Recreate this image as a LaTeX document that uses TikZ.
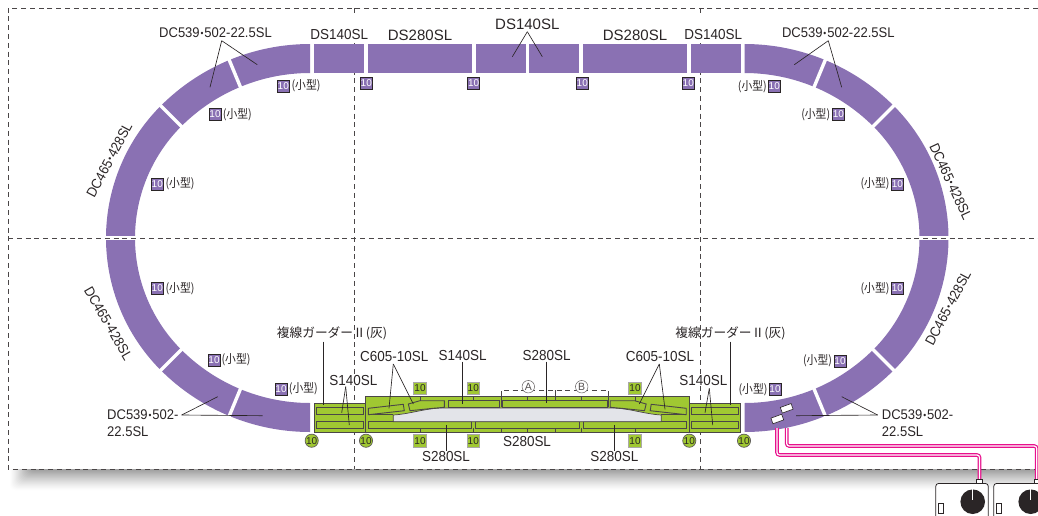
\documentclass[tikz,border=0pt]{standalone}
\usepackage{fontspec}
\setmainfont{Liberation Sans}
\newfontfamily\labn[FakeStretch=.93]{Liberation Sans}
\newfontfamily\labr[FakeStretch=.92]{Liberation Sans}
\newfontfamily\jp{Noto Sans CJK JP}
\newfontfamily\jpn[FakeStretch=.9]{Noto Sans CJK JP}
\definecolor{trackp}{HTML}{8A71B3}
\definecolor{trackg}{HTML}{A0C832}
\definecolor{ink}{HTML}{2A2526}
\definecolor{plat}{HTML}{E3E4E9}
\definecolor{pinkw}{HTML}{E8108C}
\newcommand\dt{\kern.9pt\raisebox{1.8pt}{\fontsize{9}{9}\selectfont •}\kern.9pt}
\tikzset{
  frame/.style={draw=ink!85,line width=.85pt,dash pattern=on 5pt off 3.8pt},
  lab/.style={text=ink,inner sep=0pt,font=\fontsize{14.5}{16}\labn},
  labw/.style={text=ink,inner sep=0pt,font=\fontsize{15}{16}\selectfont},
  labs/.style={text=ink,inner sep=0pt,font=\fontsize{14}{16}\labn},
  labrot/.style={text=ink,inner sep=0pt,font=\fontsize{14}{16}\labr},
  small/.style={text=ink,inner sep=0pt,font=\fontsize{12}{13}\jpn},
  jlab/.style={text=ink,inner sep=0pt,font=\fontsize{12.7}{14}\jp},
  pb/.style={rectangle,fill=trackp,draw=ink,line width=.8pt,minimum size=12pt,inner sep=0pt,text=white,font=\fontsize{10}{10}\selectfont},
  gb/.style={rectangle,fill=trackg,draw=ink!40,line width=.6pt,minimum size=12.5pt,inner sep=0pt,text=ink,font=\fontsize{10}{10}\selectfont},
  gc/.style={circle,fill=trackg,draw=ink!75,line width=.7pt,minimum size=12.5pt,inner sep=0pt,text=ink,font=\fontsize{10}{10}\selectfont},
  cl/.style={circle,fill=white,draw=ink!70,line width=.5pt,minimum size=12.5pt,inner sep=0pt,text=ink!80,font=\fontsize{10.5}{11}\selectfont},
  lead/.style={draw=ink,line width=.65pt},
  rail/.style={draw=ink!85,line width=.9pt,fill=trackg},
  tick/.style={draw=ink!85,line width=.8pt},
  rerail/.style={draw=ink,line width=.6pt,fill=white},
  halo/.style={fill=white,inner sep=1pt},
}
\newcommand\seg[5]{\fill[trackp] plot[domain=#3:#4,samples=32] ({#1+#5*cos(\x)},{#2+#5*sin(\x)}) -- plot[domain=#4:#3,samples=32] ({#1+(#5-29)*cos(\x)},{#2+(#5-29)*sin(\x)}) -- cycle;}
\newcommand\gap[4]{\draw[white,line width=3.4pt] ({#1+(#4+2)*cos(#3)},{#2+(#4+2)*sin(#3)}) -- ({#1+(#4-31)*cos(#3)},{#2+(#4-31)*sin(#3)});}
\begin{document}
\begin{tikzpicture}[x=1pt,y=-1pt]
\clip (0,0) rectangle (1038,515);
\useasboundingbox (0,0) rectangle (1038,515);
\fill[white] (0,0) rectangle (1038,515);
% shadow
\foreach \k in {0,...,20}{
  \pgfmathsetmacro\sh{36*(\k/20)^1.25}
  \fill[black!\sh,rounded corners=6pt] ({9+1.0*\k},455) rectangle (1060,{491-\k});
}
\fill[white] (8,8) rectangle (1038,469);
% frame
\draw[frame] (1038,8) -- (8,8) -- (8,469) -- (1038,469);
\draw[frame] (354,8) -- (354,469);
\draw[frame] (700,8) -- (700,469);
% curves
\seg{310}{255}{225}{270}{211}
\seg{293}{238}{180}{225}{187}
\seg{293}{238}{135}{180}{187}
\seg{310}{221}{90}{135}{211}
\seg{744.5}{255}{270}{315}{211}
\seg{761.5}{238}{315}{360}{187}
\seg{761.5}{238}{0}{45}{187}
\seg{744.5}{221}{45}{90}{211}
\gap{310}{255}{247.5}{211}
\gap{293}{238}{225}{187}
\gap{293}{238}{180}{187}
\gap{293}{238}{135}{187}
\gap{310}{221}{112.5}{211}
\gap{744.5}{255}{292.5}{211}
\gap{761.5}{238}{315}{187}
\gap{761.5}{238}{0}{187}
\gap{761.5}{238}{45}{187}
\gap{744.5}{221}{67.5}{211}
% straight top
\foreach \a/\b in {314/364,368/472,476/526,529/579,583/687,691/741}
  \fill[trackp] (\a,44) rectangle (\b,73);
\draw[frame] (8,238) -- (1038,238);
% green track
\draw[rail] (314,403.3) rectangle (365,432.7);
\draw[rail] (689.5,403.3) rectangle (740.7,432.7);
\draw[rail,line width=1pt] (365,396.7) rectangle (689.5,432.7);
\foreach \a/\b in {316.7/363.3,691.7/738.3}{
  \draw[rail] (\a,407.7) rectangle (\b,414.7);
  \draw[rail] (\a,421.7) rectangle (\b,428.3);
}
\foreach \a/\b in {368.3/471.7,475.7/579.3,583.3/686.2}
  \draw[rail] (\a,421.7) rectangle (\b,428.3);
\draw[rail] (448.3,400.7) rectangle (499,407.5);
\draw[rail] (502.3,400.7) rectangle (607,407.5);
% platform
\path[draw=ink!85,line width=.7pt,fill=plat] (393.3,415) .. controls (410,414) and (425,408.3) .. (442,408) -- (612.5,408) .. controls (629.5,408.3) and (644.5,414) .. (661.2,415) -- (661.2,421.7) -- (393.3,421.7) -- cycle;
\draw[tick] (368.3,414.7) -- (393.3,414.7);
\draw[tick] (686.2,414.7) -- (661.2,414.7);
% turnouts
\draw[rail] (368.3,408.3) -- (403.3,404.3) -- (404.3,410.7) -- (368.3,414.7) -- cycle;
\draw[rail] (408.3,404) -- (420,400.7) -- (444.3,400.7) -- (444.3,407.3) -- (433,408.3) -- (410,410.7) -- cycle;
\draw[rail] (686.2,408.3) -- (651.2,404.3) -- (650.2,410.7) -- (686.2,414.7) -- cycle;
\draw[rail] (646.2,404) -- (634.5,400.7) -- (610.2,400.7) -- (610.2,407.3) -- (621.5,408.3) -- (644.5,410.7) -- cycle;
% ticks
\foreach \t in {420,473.3,527,581.7,635} \draw[tick] (\t,396.7) -- (\t,400.7);
\foreach \t in {420,473.7,501,527,555,581.7,635} \draw[tick] (\t,428.3) -- (\t,432.7);
\draw[tick] (365.3,396.7) -- (365.3,432.7);
\draw[tick] (689.5,396.7) -- (689.5,432.7);
% bracket
\draw[frame] (501,396) -- (501,390) -- (608.3,390) -- (608.3,396);
\draw[tick] (555,390) -- (555,400.7);
\draw[tick] (501,396.7) -- (501,407);
\draw[tick] (608.3,396.7) -- (608.3,407);
\node[cl] (ca) at (528.3,386.7) {A};
\node[cl] (cb) at (581.7,386.7) {B};
% feeders
\foreach \w/\c in {3.6pt/pinkw,1.2pt/white}{
  \draw[line width=\w,color=\c,rounded corners=2.5pt] (777,428) -- (777,455) -- (979.5,455) -- (979.5,480);
  \draw[line width=\w,color=\c,rounded corners=2.5pt] (786.7,428) -- (786.7,446) -- (1036.7,446) -- (1036.7,480);
}
\draw[rerail,rotate around={20:(786.7,408.3)}] (781,405.3) rectangle (792.4,411.3);
\draw[rerail,rotate around={20:(777.3,419)}] (771.6,416) rectangle (783,422);
% controllers
\foreach \o in {0,58}{
  \draw[rerail] (976+\o,479) rectangle (982.3+\o,483.5);
  \draw[draw=ink,line width=.8pt,fill=white,rounded corners=3pt] (935.7+\o,530) -- (935.7+\o,483.4) -- (988.3+\o,483.4) -- (988.3+\o,530);
  \draw[rerail] (938.3+\o,503.3) rectangle (943.3+\o,513.3);
  \fill[ink] (972.7+\o,501.7) circle[radius=12.3];
  \draw[white,line width=1.1pt] (972.7+\o,489.4) -- (972.7+\o,500);
}
% top labels
\node[labs] (t1) at (215.5,33) {DC539\dt 502-22.5SL};
\coordinate (t1a) at (221.7,40.7);
\draw[lead] (t1a) -- (210,87.3);
\draw[lead] (t1a) -- (257.3,64.7);
\node[labs] (t2) at (838.3,33) {DC539\dt 502-22.5SL};
\coordinate (t2a) at (828.3,40.7);
\draw[lead] (t2a) -- (794.3,64.7);
\draw[lead] (t2a) -- (841.7,87.3);
\fill[white] (352,13) rectangle (356,43);
\fill[white] (698,13) rectangle (702,43);
\node[lab] (ds1) at (339.3,35) {DS140SL};
\node[labw] (ds2) at (420,35) {DS280SL};
\node[labw] (ds3) at (527.3,24) {DS140SL};
\coordinate (ds3a) at (527.3,31.7);
\draw[lead] (ds3a) -- (512.3,56.7);
\draw[lead] (ds3a) -- (542.3,56.7);
\node[labw] (ds4) at (635,35) {DS280SL};
\node[lab] (ds5) at (713.3,35) {DS140SL};
% purple badges
\node[pb] (b1) at (366.3,83.3) {10};
\node[pb] (b2) at (473.7,83.3) {10};
\node[pb] (b3) at (582.3,83.3) {10};
\node[pb] (b4) at (688.3,83.3) {10};
\foreach \n/\bx/\tx/\y in {a/283.3/306/86,b/215/237.3/114.3,c/157.3/180/184,d/157.3/180/288.3,e/214/236/360,f/281/303.3/389,g/774.3/752.3/86.5,h/838.3/815.7/114.3,i/897.3/875/184,j/897.3/875/288.3,k/840/817.5/361,l/775/753/389.3}{
  \node[pb] (p\n) at (\bx,\y) {10};
  \node[small] (s\n) at (\tx,\y) {(小型)};
}
% rotated labels
\node[labrot,rotate=62] (r1) at (109.3,160) {DC465\dt 428SL};
\node[labrot,rotate=-60] (r2) at (108.3,323.3) {DC465\dt 428SL};
\node[labrot,rotate=-65] (r3) at (950.7,181.7) {DC465\dt 428SL};
\node[labrot,rotate=62] (r4) at (948,308) {DC465\dt 428SL};
% lower side labels
\node[labs,anchor=west] (m1) at (107,415) {DC539\dt 502-};
\node[labs,anchor=west] (m2) at (107,431.7) {22.5SL};
\coordinate (m1a) at (181.7,415);
\draw[lead] (m1a) -- (217.7,396.7);
\draw[lead] (m1a) -- (262.7,415.7);
\node[labs,anchor=west] (n1) at (881.7,415) {DC539\dt 502-};
\node[labs,anchor=west] (n2) at (881.7,431.7) {22.5SL};
\coordinate (n1a) at (877.7,415);
\draw[lead] (n1a) -- (841.7,396.7);
\draw[lead] (n1a) -- (796,415.7);
% girder labels
\node[jlab] (g1) at (332,333) {複線ガーダーⅡ(灰)};
\draw[lead] (323.3,341.7) -- (323.3,405);
\node[jlab] (g2) at (730.5,333) {複線ガーダーⅡ(灰)};
\draw[lead] (730.7,341.7) -- (730.7,405);
% S140 side
\node[lab,halo] (s14l) at (353.3,380) {S140SL};
\coordinate (s14la) at (345.7,386.7);
\draw[lead] (s14la) -- (341.7,412.7);
\draw[lead] (s14la) -- (349.3,425);
\node[lab,halo] (s14r) at (703.3,380) {S140SL};
\coordinate (s14ra) at (709.3,388.3);
\draw[lead] (s14ra) -- (705,412.7);
\draw[lead] (s14ra) -- (712.7,425);
% C605
\node[lab] (c1) at (394.3,356.7) {C605-10SL};
\coordinate (c1a) at (393.3,364);
\draw[lead] (c1a) -- (389,408.3);
\draw[lead] (c1a) -- (413.3,404);
\node[lab] (c2) at (660,356.7) {C605-10SL};
\coordinate (c2a) at (659.3,364);
\draw[lead] (c2a) -- (639.3,404);
\draw[lead] (c2a) -- (665,409.3);
% straight labels
\node[lab] (s14m) at (462.7,355) {S140SL};
\draw[lead] (462.7,361.7) -- (462.7,404);
\node[lab] (s28t) at (546.7,355) {S280SL};
\draw[lead] (546.7,361.7) -- (546.7,403);
\node[lab] (s28b) at (527,441) {S280SL};
\node[lab] (s28l) at (446,456.7) {S280SL};
\draw[lead] (446,425) -- (446,450.5);
\node[lab] (s28r) at (614.3,456.7) {S280SL};
\draw[lead] (614.3,425) -- (614.3,450.5);
% green badges
\node[gb] (g10a) at (420,388.3) {10};
\node[gb] (g10b) at (473.3,388.3) {10};
\node[gb] (g10c) at (635,388.3) {10};
\node[gb] (g10d) at (420,440.7) {10};
\node[gb] (g10e) at (473.3,440.7) {10};
\node[gb] (g10f) at (635,440.7) {10};
\node[gc] (c10a) at (311.7,440.7) {10};
\node[gc] (c10b) at (366,440.7) {10};
\node[gc] (c10c) at (689.3,440.7) {10};
\node[gc] (c10d) at (744,440.7) {10};
\end{tikzpicture}
\end{document}
